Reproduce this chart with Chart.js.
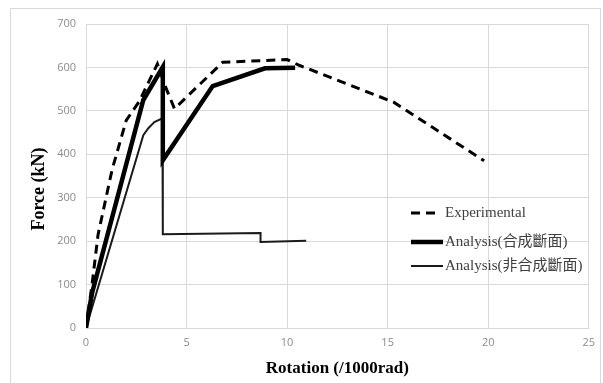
<!DOCTYPE html>
<html>
<head>
<meta charset="utf-8">
<script src="https://cdn.jsdelivr.net/npm/chart.js@4.4.1/dist/chart.umd.min.js"></script>
<style>
  html, body { margin: 0; padding: 0; background: #fff; }
  #wrap { position: relative; width: 603px; height: 383px; }
</style>
</head>
<body>
<div id="wrap"><canvas id="forceChart" width="603" height="383"></canvas></div>
<script>
// Dados
const seriesNames = ['Experimental', 'Analysis(合成斷面)', 'Analysis(非合成斷面)'];

const expRot = [0, 0.3, 0.6, 1.3, 2.0, 2.65, 3.55, 4.0, 4.4, 6.8, 10.0, 10.6, 15.3, 19.8];
const expForce = [0, 100, 215, 365, 478, 522, 608, 550, 505, 612, 618, 605, 520, 385];

const compRot = [0, 0.3, 2.85, 3.82, 3.82, 6.3, 8.9, 10.4];
const compForce = [0, 80, 525, 601, 386, 557, 598, 599];

const nonCompRot = [0, 2.85, 3.1, 3.4, 3.8, 3.82, 8.68, 8.68, 10.95];
const nonCompForce = [0, 444, 460, 474, 483, 216, 219, 198, 201];

const xTicks = [0, 5, 10, 15, 20, 25];
const yTicks = [0, 100, 200, 300, 400, 500, 600, 700];

const toPoints = (xs, ys) => xs.map((x, i) => ({ x: x, y: ys[i] }));

// Borda externa e título do eixo Y
const frame = {
    id: 'frame',
    beforeDraw(chart) {
        const ctx = chart.ctx;
        ctx.save();
        ctx.fillStyle = '#fff';
        ctx.fillRect(0, 0, chart.width, chart.height);
        ctx.strokeStyle = '#d9d9d9';
        ctx.lineWidth = 1;
        ctx.strokeRect(10.5, 8.5, 590, 380);
        ctx.restore();
    },
    afterDraw(chart) {
        const ctx = chart.ctx;
        ctx.save();
        ctx.translate(39, 189);
        ctx.rotate(-Math.PI / 2);
        ctx.fillStyle = '#000';
        ctx.font = 'bold 18px "Liberation Serif", serif';
        ctx.textAlign = 'center';
        ctx.textBaseline = 'middle';
        ctx.fillText('Force (kN)', 0, 0);
        ctx.restore();
    }
};

// Legenda dentro da área do gráfico
const insideLegend = {
    id: 'insideLegend',
    afterDraw(chart) {
        const ctx = chart.ctx;
        const rows = [213, 242, 266];
        ctx.save();
        chart.data.datasets.forEach((ds, i) => {
            const y = rows[i];
            ctx.strokeStyle = ds.borderColor;
            ctx.lineWidth = ds.borderWidth;
            ctx.setLineDash(ds.borderDash || []);
            ctx.beginPath();
            ctx.moveTo(411, y);
            ctx.lineTo(ds.borderDash ? 438 : 443, y);
            ctx.stroke();
            ctx.setLineDash([]);
            ctx.fillStyle = '#404040';
            ctx.font = '15px "Liberation Serif", "Noto Sans CJK TC", serif';
            ctx.textBaseline = 'middle';
            ctx.fillText(ds.label, 445, y);
        });
        ctx.restore();
    }
};

const forceCtx = document.getElementById('forceChart').getContext('2d');
const forceChart = new Chart(forceCtx, {
    type: 'scatter',
    data: {
        datasets: [{
            label: seriesNames[0],
            data: toPoints(expRot, expForce),
            showLine: true,
            borderColor: '#000',
            borderWidth: 3,
            borderDash: [9, 6],
            pointRadius: 0,
            tension: 0
        }, {
            label: seriesNames[1],
            data: toPoints(compRot, compForce),
            showLine: true,
            borderColor: '#000',
            borderWidth: 4.5,
            pointRadius: 0,
            tension: 0
        }, {
            label: seriesNames[2],
            data: toPoints(nonCompRot, nonCompForce),
            showLine: true,
            borderColor: '#1a1a1a',
            borderWidth: 2,
            pointRadius: 0,
            tension: 0
        }]
    },
    options: {
        responsive: false,
        devicePixelRatio: 1,
        animation: false,
        layout: { padding: { left: 0, right: 10, top: 24, bottom: 0 } },
        plugins: {
            legend: { display: false },
            tooltip: { enabled: false }
        },
        scales: {
            x: {
                type: 'linear',
                min: xTicks[0],
                max: xTicks[xTicks.length - 1],
                afterFit: s => { s.height = 55; },
                afterBuildTicks: s => { s.ticks = xTicks.map(v => ({ value: v })); },
                grid: { color: '#d9d9d9', drawTicks: false },
                border: { color: '#d9d9d9' },
                ticks: {
                    padding: 8,
                    color: '#8c8c8c',
                    font: { family: '"Open Sans", sans-serif', size: 11 }
                },
                title: {
                    display: true,
                    text: 'Rotation (/1000rad)',
                    color: '#000',
                    font: { family: '"Liberation Serif", serif', size: 17, weight: 'bold' },
                    padding: { top: 0, bottom: 4 }
                }
            },
            y: {
                type: 'linear',
                min: yTicks[0],
                max: yTicks[yTicks.length - 1],
                afterFit: s => { s.width = 86; },
                afterBuildTicks: s => { s.ticks = yTicks.map(v => ({ value: v })); },
                grid: { color: '#d9d9d9', drawTicks: false },
                border: { color: '#d9d9d9' },
                ticks: {
                    padding: 10,
                    color: '#8c8c8c',
                    font: { family: '"Open Sans", sans-serif', size: 11 }
                }
            }
        }
    },
    plugins: [frame, insideLegend]
});
</script>
</body>
</html>
